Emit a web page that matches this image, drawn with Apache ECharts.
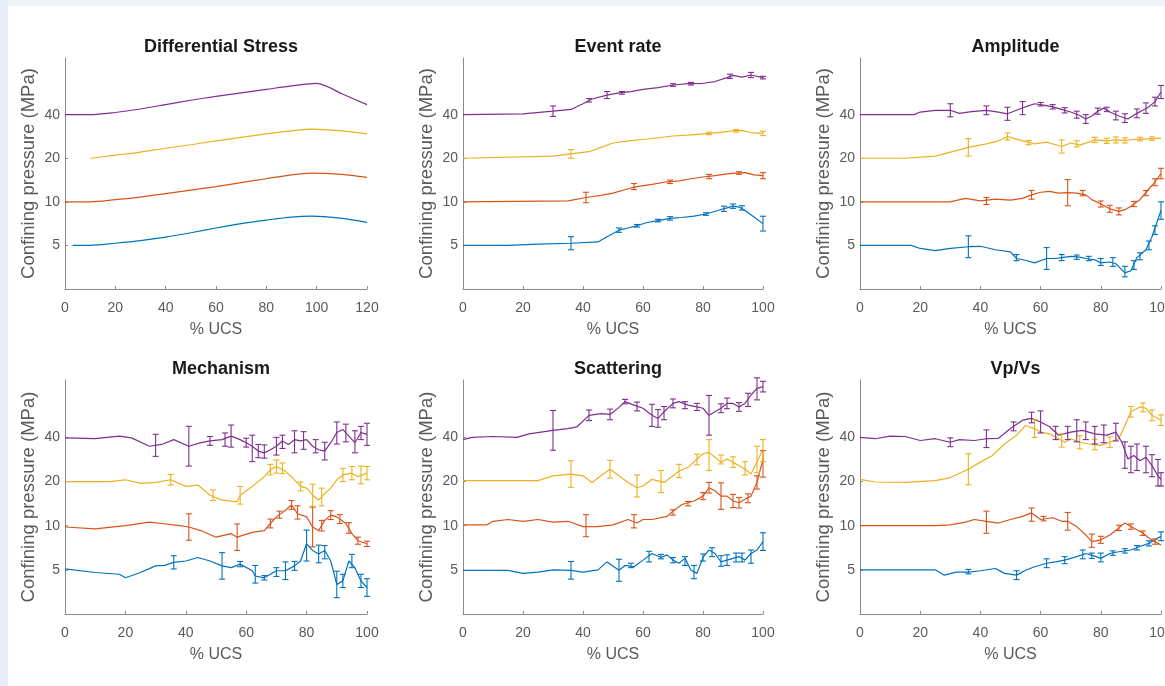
<!DOCTYPE html>
<html>
<head>
<meta charset="utf-8">
<script src="https://cdn.jsdelivr.net/npm/echarts@6/dist/echarts.min.js"></script>
<style>
html,body{margin:0;padding:0;background:#fff;}
#chart{width:1165px;height:686px;}
</style>
</head>
<body>
<div id="chart"></div>
<script>
// ---------------- DATA ----------------
const panelTitles = ['Differential Stress', 'Event rate', 'Amplitude', 'Mechanism', 'Scattering', 'Vp/Vs'];
const xMaxes = [120, 100, 100, 100, 100, 100];
const xTickStep = 20;
const yTickPositions = [1, 2, 3, 4];
const yTickLabels = ['5', '10', '20', '40'];
const xAxisTitle = '% UCS';
const yAxisTitle = 'Confining pressure (MPa)';
const seriesNames = ['5 MPa', '10 MPa', '20 MPa', '40 MPa'];

// Differential Stress
const stressBlue = [[3,1.0],[10,1.0],[20,1.05],[30,1.11],[40,1.19],[50,1.29],[60,1.40],[70,1.5],[80,1.58],[90,1.65],[98,1.67],[110,1.62],[120,1.53]];
const stressOrange = [[0,2.0],[10,2.0],[20,2.05],[30,2.11],[40,2.19],[50,2.27],[60,2.35],[70,2.44],[80,2.53],[90,2.62],[98,2.66],[110,2.63],[120,2.56]];
const stressYellow = [[10,3.0],[20,3.07],[30,3.14],[40,3.23],[50,3.31],[60,3.40],[70,3.48],[80,3.56],[90,3.63],[98,3.67],[110,3.63],[120,3.56]];
const stressPurple = [[0,4.0],[10,4.0],[20,4.05],[30,4.13],[40,4.23],[50,4.33],[60,4.42],[70,4.5],[80,4.58],[90,4.66],[100,4.72],[110,4.48],[120,4.23]];

// Event rate
const erBlue = [[0,1.0],[15,1.0],[25,1.03],[36,1.05],[45,1.08],[48,1.2],[52,1.35],[55,1.4],[58,1.45],[61,1.52],[65,1.57],[69,1.62],[73,1.64],[77,1.67],[81,1.72],[85,1.8],[88,1.86],[90,1.9],[92,1.88],[94,1.8],[97,1.65],[100,1.5]];
const erBlueErr = [[36,1.05,0.15],[52,1.35,0.05],[58,1.45,0.03],[65,1.57,0.03],[69,1.62,0.04],[81,1.72,0.03],[87,1.84,0.06],[90,1.9,0.05],[93,1.86,0.05],[100,1.5,0.17]];
const erOrange = [[0,2.0],[35,2.02],[41,2.1],[46,2.15],[50,2.2],[55,2.3],[58,2.35],[63,2.4],[68,2.46],[72,2.48],[76,2.53],[80,2.57],[84,2.6],[88,2.64],[91,2.66],[94,2.67],[97,2.62],[100,2.6]];
const erOrangeErr = [[41,2.1,0.12],[57,2.35,0.07],[69,2.46,0.04],[82,2.58,0.05],[92,2.66,0.03],[100,2.6,0.07]];
const erYellow = [[0,3.0],[30,3.05],[36,3.1],[42,3.15],[46,3.25],[50,3.35],[55,3.4],[60,3.43],[65,3.47],[70,3.51],[75,3.53],[80,3.56],[85,3.59],[90,3.63],[93,3.64],[96,3.59],[100,3.57]];
const erYellowErr = [[36,3.1,0.1],[82,3.57,0.03],[91,3.63,0.03],[100,3.57,0.05]];
const erPurple = [[0,4.0],[20,4.02],[30,4.08],[36,4.12],[40,4.25],[43,4.36],[48,4.45],[52,4.5],[56,4.53],[60,4.58],[65,4.62],[70,4.68],[75,4.71],[80,4.72],[84,4.76],[88,4.85],[90,4.9],[93,4.86],[96,4.91],[100,4.85]];
const erPurpleErr = [[30,4.08,0.12],[42,4.33,0.04],[48,4.45,0.08],[53,4.5,0.03],[70,4.68,0.03],[76,4.71,0.03],[89,4.88,0.05],[96,4.91,0.06],[100,4.85,0.03]];

// Amplitude
const ampBlue = [[0,1.0],[17,1.0],[20,0.93],[25,0.88],[30,0.93],[36,0.97],[40,0.98],[45,0.9],[50,0.85],[52,0.7],[55,0.66],[58,0.6],[62,0.7],[65,0.7],[67,0.72],[70,0.75],[73,0.73],[75,0.7],[78,0.67],[80,0.6],[83,0.62],[85,0.58],[88,0.37],[90,0.42],[92,0.72],[95,0.9],[97,1.2],[99,1.6],[100,1.8]];
const ampBlueErr = [[36,0.97,0.25],[52,0.72,0.07],[62,0.7,0.25],[67,0.72,0.07],[72,0.73,0.05],[76,0.7,0.05],[80,0.62,0.08],[84,0.62,0.1],[88,0.4,0.12],[91,0.55,0.1],[93,0.75,0.08],[96,1.0,0.1],[98,1.35,0.1],[100,1.8,0.2]];
const ampOrange = [[0,2.0],[30,2.0],[35,2.08],[40,2.02],[45,2.06],[50,2.04],[54,2.08],[57,2.16],[60,2.22],[63,2.24],[66,2.2],[69,2.21],[72,2.2],[75,2.16],[77,2.05],[80,1.95],[83,1.84],[86,1.78],[88,1.82],[90,1.9],[93,2.05],[96,2.3],[98,2.45],[100,2.65]];
const ampOrangeErr = [[42,2.02,0.08],[57,2.16,0.1],[69,2.21,0.3],[74,2.2,0.06],[80,1.95,0.07],[83,1.84,0.08],[86,1.78,0.08],[91,1.95,0.06],[95,2.2,0.06],[98,2.45,0.08],[100,2.65,0.12]];
const ampYellow = [[0,3.0],[15,3.0],[25,3.05],[36,3.25],[42,3.33],[46,3.4],[49,3.5],[52,3.44],[55,3.38],[58,3.33],[62,3.37],[67,3.27],[70,3.35],[73,3.3],[76,3.37],[78,3.42],[82,3.4],[85,3.42],[88,3.41],[91,3.43],[94,3.44],[97,3.45],[100,3.46]];
const ampYellowErr = [[36,3.25,0.2],[49,3.5,0.08],[56,3.36,0.05],[67,3.27,0.15],[72,3.33,0.07],[78,3.42,0.06],[82,3.4,0.06],[85,3.42,0.07],[88,3.41,0.06],[93,3.44,0.04],[97,3.45,0.04]];
const ampPurple = [[0,4.0],[18,4.0],[20,4.06],[25,4.1],[30,4.1],[33,4.03],[37,4.07],[42,4.1],[46,4.06],[49,4.02],[52,4.1],[55,4.18],[58,4.25],[61,4.22],[64,4.18],[67,4.12],[70,4.06],[73,3.98],[75,3.9],[77,3.97],[79,4.08],[81,4.15],[83,4.06],[86,3.97],[89,3.9],[92,4.03],[94,4.1],[96,4.18],[98,4.3],[100,4.52]];
const ampPurpleErr = [[30,4.1,0.15],[42,4.1,0.1],[49,4.02,0.15],[54,4.15,0.15],[60,4.24,0.04],[64,4.18,0.05],[68,4.1,0.06],[72,4.0,0.08],[75,3.9,0.1],[79,4.08,0.07],[82,4.12,0.05],[85,3.98,0.1],[88,3.92,0.1],[92,4.03,0.1],[95,4.15,0.12],[98,4.3,0.1],[100,4.52,0.15]];

// Mechanism
const mechBlue = [[0,1.02],[10,0.94],[18,0.9],[20,0.82],[25,0.94],[30,1.09],[33,1.1],[36,1.17],[40,1.2],[44,1.28],[48,1.2],[52,1.09],[55,1.05],[58,1.13],[62,0.98],[63,0.86],[66,0.82],[68,0.9],[70,0.98],[73,0.98],[76,1.09],[78,1.2],[80,1.59],[82,1.44],[84,1.36],[86,1.44],[88,1.2],[90,0.67],[92,0.75],[94,1.2],[96,1.05],[98,0.75],[100,0.6]];
const mechBlueErr = [[36,1.17,0.15],[52,1.09,0.3],[58,1.13,0.06],[63,0.9,0.2],[66,0.82,0.05],[70,0.95,0.1],[73,0.98,0.2],[76,1.09,0.1],[80,1.55,0.35],[84,1.36,0.2],[86,1.4,0.15],[90,0.67,0.3],[92,0.75,0.15],[95,1.2,0.15],[98,0.75,0.15],[100,0.6,0.2]];
const mechOrange = [[0,1.97],[10,1.93],[20,2.0],[28,2.08],[32,2.05],[38,2.0],[41,1.97],[45,1.89],[50,1.74],[55,1.82],[57,1.74],[62,1.85],[66,1.89],[68,2.05],[70,2.2],[73,2.35],[75,2.47],[77,2.27],[80,2.2],[82,1.97],[84,1.89],[86,2.12],[88,2.24],[90,2.2],[93,2.05],[95,1.82],[97,1.66],[100,1.59]];
const mechOrangeErr = [[41,1.97,0.3],[57,1.74,0.3],[68,2.05,0.1],[71,2.25,0.08],[75,2.47,0.1],[77,2.3,0.15],[82,1.97,0.45],[85,2.0,0.12],[88,2.24,0.1],[91,2.15,0.1],[94,1.95,0.12],[97,1.66,0.08],[100,1.59,0.06]];
const mechYellow = [[0,3.0],[15,3.0],[20,3.04],[25,2.96],[30,2.98],[35,3.04],[40,2.89],[44,2.92],[48,2.69],[52,2.58],[57,2.54],[58,2.69],[62,2.89],[66,3.11],[68,3.27],[70,3.34],[73,3.23],[75,3.11],[78,2.89],[80,2.85],[82,2.69],[84,2.58],[86,2.73],[88,2.85],[90,3.04],[92,3.15],[95,3.19],[97,3.11],[100,3.19]];
const mechYellowErr = [[35,3.04,0.12],[49,2.69,0.12],[58,2.69,0.2],[68,3.27,0.12],[70,3.34,0.15],[72,3.3,0.12],[78,2.89,0.1],[82,2.69,0.25],[85,2.65,0.2],[92,3.15,0.15],[95,3.19,0.15],[98,3.15,0.2],[100,3.19,0.15]];
const mechPurple = [[0,3.99],[10,3.97],[18,4.03],[22,3.99],[28,3.8],[32,3.84],[36,3.95],[41,3.8],[45,3.88],[48,3.92],[52,3.95],[55,4.03],[58,3.95],[60,3.88],[62,3.8],[64,3.69],[66,3.65],[68,3.72],[70,3.8],[72,3.92],[74,3.84],[76,3.95],[78,3.92],[80,3.95],[82,3.8],[84,3.72],[86,3.69],[88,3.88],[90,4.11],[92,4.18],[94,4.03],[96,3.88],[98,4.11],[100,4.07]];
const mechPurpleErr = [[30,3.82,0.25],[41,3.8,0.45],[48,3.92,0.1],[53,3.95,0.15],[55,4.03,0.25],[60,3.88,0.1],[62,3.75,0.3],[64,3.69,0.15],[66,3.68,0.15],[70,3.8,0.2],[72,3.9,0.15],[76,3.9,0.25],[79,3.93,0.2],[83,3.8,0.15],[86,3.69,0.2],[90,4.1,0.25],[93,4.1,0.2],[96,3.9,0.25],[98,4.1,0.15],[100,4.07,0.25]];

// Scattering
const scatBlue = [[0,0.99],[15,0.99],[20,0.92],[25,0.95],[30,1.0],[36,0.99],[40,0.95],[45,1.0],[48,1.18],[52,0.99],[54,1.1],[57,1.07],[60,1.22],[63,1.37],[66,1.28],[68,1.34],[70,1.22],[72,1.15],[74,1.26],[76,0.99],[78,0.92],[80,1.28],[82,1.45],[84,1.37],[86,1.18],[88,1.22],[90,1.26],[92,1.3],[94,1.22],[96,1.37],[98,1.45],[100,1.64]];
const scatBlueErr = [[36,0.99,0.2],[52,0.99,0.25],[56,1.1,0.05],[62,1.3,0.12],[66,1.3,0.05],[70,1.22,0.06],[74,1.2,0.1],[77,0.95,0.15],[80,1.28,0.08],[83,1.4,0.1],[86,1.2,0.12],[88,1.22,0.12],[91,1.28,0.1],[93,1.28,0.1],[96,1.3,0.15],[100,1.64,0.2]];
const scatOrange = [[0,2.02],[8,2.02],[10,2.1],[15,2.14],[20,2.1],[25,2.14],[30,2.08],[35,2.1],[40,1.98],[45,1.98],[50,2.02],[55,2.14],[58,2.06],[60,2.14],[63,2.14],[68,2.21],[70,2.33],[73,2.48],[77,2.56],[80,2.67],[82,2.86],[84,2.79],[86,2.67],[88,2.67],[90,2.56],[92,2.52],[94,2.6],[96,2.67],[98,2.98],[100,3.51]];
const scatOrangeErr = [[41,2.0,0.25],[57,2.1,0.15],[70,2.3,0.06],[75,2.5,0.05],[80,2.67,0.08],[82,2.86,0.12],[86,2.67,0.3],[90,2.56,0.15],[92,2.52,0.12],[95,2.62,0.1],[98,2.98,0.15],[100,3.4,0.3]];
const scatYellow = [[0,3.02],[25,3.02],[30,3.13],[36,3.17],[40,3.13],[43,2.98],[46,3.13],[49,3.28],[52,3.13],[55,2.98],[58,2.86],[60,2.9],[63,3.05],[67,2.98],[70,3.13],[72,3.24],[75,3.32],[78,3.51],[80,3.63],[82,3.66],[84,3.55],[86,3.44],[88,3.51],[90,3.44],[92,3.36],[94,3.28],[96,3.17],[98,3.44],[100,3.74]];
const scatYellowErr = [[36,3.17,0.3],[49,3.28,0.2],[58,2.9,0.25],[66,3.0,0.25],[72,3.24,0.15],[78,3.5,0.12],[82,3.6,0.35],[86,3.5,0.1],[90,3.44,0.12],[94,3.3,0.15],[98,3.5,0.3],[100,3.7,0.25]];
const scatPurple = [[0,3.95],[3,4.0],[10,4.02],[18,4.0],[22,4.08],[30,4.16],[35,4.2],[38,4.24],[42,4.5],[46,4.54],[49,4.52],[52,4.68],[54,4.81],[57,4.73],[60,4.66],[63,4.5],[65,4.43],[67,4.58],[70,4.77],[72,4.81],[75,4.73],[78,4.69],[80,4.66],[82,4.5],[84,4.58],[86,4.66],[88,4.77],[90,4.77],[92,4.69],[94,4.77],[96,4.96],[98,5.11],[100,5.15]];
const scatPurpleErr = [[30,4.16,0.45],[42,4.5,0.12],[49,4.52,0.12],[54,4.81,0.05],[58,4.7,0.1],[63,4.5,0.25],[65,4.43,0.2],[67,4.55,0.15],[70,4.77,0.1],[74,4.73,0.08],[78,4.69,0.08],[82,4.5,0.45],[86,4.66,0.1],[88,4.77,0.12],[92,4.69,0.1],[95,4.85,0.15],[98,5.1,0.25],[100,5.15,0.12]];

// Vp/Vs
const vpBlue = [[0,1.0],[25,1.0],[28,0.88],[32,0.95],[36,0.95],[40,0.98],[45,1.03],[48,0.92],[52,0.88],[55,0.99],[58,1.07],[62,1.15],[65,1.18],[68,1.22],[72,1.3],[75,1.37],[78,1.31],[80,1.26],[83,1.37],[86,1.41],[90,1.45],[93,1.53],[96,1.6],[100,1.76]];
const vpBlueErr = [[36,0.96,0.05],[52,0.88,0.1],[62,1.15,0.1],[68,1.22,0.08],[74,1.35,0.1],[77,1.32,0.06],[80,1.28,0.1],[84,1.38,0.05],[88,1.43,0.05],[92,1.5,0.05],[96,1.6,0.06],[100,1.76,0.1]];
const vpOrange = [[0,2.0],[25,2.0],[30,2.02],[35,2.08],[38,2.14],[42,2.1],[46,2.06],[50,2.14],[54,2.21],[57,2.29],[60,2.14],[64,2.18],[67,2.1],[69,2.1],[72,1.98],[75,1.79],[77,1.64],[80,1.68],[83,1.79],[86,1.95],[88,2.06],[90,1.98],[92,1.91],[94,1.83],[96,1.72],[98,1.64],[100,1.56]];
const vpOrangeErr = [[42,2.08,0.25],[57,2.25,0.15],[61,2.16,0.05],[69,2.1,0.2],[77,1.66,0.15],[80,1.68,0.08],[86,1.95,0.06],[90,1.98,0.06],[94,1.83,0.05],[98,1.64,0.06]];
const vpYellow = [[0,3.05],[5,2.99],[15,2.98],[25,3.02],[30,3.09],[36,3.28],[40,3.44],[44,3.59],[48,3.85],[52,4.05],[55,4.27],[58,4.2],[60,4.12],[63,4.08],[66,3.97],[68,3.89],[70,3.97],[73,3.89],[76,3.85],[80,3.82],[83,3.89],[86,3.97],[88,4.27],[90,4.58],[93,4.69],[95,4.66],[97,4.5],[100,4.39]];
const vpYellowErr = [[36,3.28,0.35],[58,4.2,0.2],[67,3.93,0.15],[73,3.89,0.15],[78,3.84,0.12],[83,3.89,0.12],[90,4.58,0.12],[94,4.68,0.1],[97,4.5,0.12],[100,4.39,0.12]];
const vpPurple = [[0,4.0],[5,3.97],[10,4.03],[15,4.02],[20,3.93],[25,3.97],[30,3.89],[33,3.95],[38,3.93],[42,3.97],[46,3.98],[50,4.2],[54,4.39],[57,4.43],[60,4.35],[63,4.24],[66,4.05],[70,4.12],[74,4.16],[78,4.08],[82,4.05],[85,4.12],[87,3.89],[89,3.51],[91,3.59],[93,3.47],[95,3.55],[97,3.36],[99,3.13],[100,3.05]];
const vpPurpleErr = [[30,3.89,0.1],[42,3.97,0.2],[51,4.25,0.1],[57,4.45,0.12],[60,4.35,0.25],[65,4.1,0.15],[69,4.1,0.15],[72,4.15,0.25],[75,4.15,0.2],[78,4.05,0.2],[81,4.08,0.2],[85,4.12,0.2],[88,3.6,0.3],[90,3.5,0.3],[92,3.55,0.3],[95,3.5,0.3],[97,3.36,0.25],[99,3.2,0.3],[100,3.05,0.15]];

// ---------------- LAYOUT / STYLE ----------------
const colors = ['#0072BD', '#D95319', '#EDB120', '#7E2F8E'];
const panelLines = [
  [stressBlue, stressOrange, stressYellow, stressPurple],
  [erBlue, erOrange, erYellow, erPurple],
  [ampBlue, ampOrange, ampYellow, ampPurple],
  [mechBlue, mechOrange, mechYellow, mechPurple],
  [scatBlue, scatOrange, scatYellow, scatPurple],
  [vpBlue, vpOrange, vpYellow, vpPurple]
];
const panelErrs = [
  [[], [], [], []],
  [erBlueErr, erOrangeErr, erYellowErr, erPurpleErr],
  [ampBlueErr, ampOrangeErr, ampYellowErr, ampPurpleErr],
  [mechBlueErr, mechOrangeErr, mechYellowErr, mechPurpleErr],
  [scatBlueErr, scatOrangeErr, scatYellowErr, scatPurpleErr],
  [vpBlueErr, vpOrangeErr, vpYellowErr, vpPurpleErr]
];
const gridBoxes = [
  {left: 65, top: 58, width: 302, height: 231},
  {left: 463, top: 58, width: 300, height: 231},
  {left: 860, top: 58, width: 301, height: 231},
  {left: 65, top: 380, width: 302, height: 234},
  {left: 463, top: 380, width: 300, height: 234},
  {left: 860, top: 380, width: 301, height: 234}
];
const FONT = 'Liberation Sans, Arial, sans-serif';
const axisColor = '#8a8a8a';
const labelColor = '#5a5a5a';

const grids = [], xAxes = [], yAxes = [], titles = [], series = [];
gridBoxes.forEach((g, i) => {
  grids.push({left: g.left, top: g.top, width: g.width, height: g.height, containLabel: false, outerBoundsMode: 'none'});
  titles.push({
    text: panelTitles[i],
    left: g.left + g.width / 2, top: g.top - 25, textAlign: 'center',
    textStyle: {fontFamily: FONT, fontSize: 18, fontWeight: 'bold', color: '#1a1a1a'}
  });
  xAxes.push({
    type: 'value', gridIndex: i, min: 0, max: xMaxes[i], interval: xTickStep,
    name: xAxisTitle, nameLocation: 'middle', nameGap: 33,
    nameTextStyle: {fontFamily: FONT, fontSize: 16, color: labelColor},
    axisLine: {show: true, lineStyle: {color: axisColor, width: 1}},
    axisTick: {show: true, inside: true, length: 3, lineStyle: {color: axisColor}},
    axisLabel: {fontFamily: FONT, fontSize: 14, color: labelColor, margin: 12, hideOverlap: false},
    splitLine: {show: false}
  });
  yAxes.push({
    type: 'value', gridIndex: i, min: 0, max: 5.3,
    name: yAxisTitle, nameLocation: 'middle', nameGap: 27,
    nameTextStyle: {fontFamily: FONT, fontSize: 18.5, color: labelColor},
    axisLine: {show: true, onZero: false, lineStyle: {color: axisColor, width: 1}},
    axisTick: {show: true, inside: true, length: 3, customValues: yTickPositions, lineStyle: {color: axisColor}},
    axisLabel: {
      fontFamily: FONT, fontSize: 14, color: labelColor, margin: 5,
      customValues: yTickPositions,
      formatter: v => { const k = yTickPositions.indexOf(Math.round(v)); return k >= 0 ? yTickLabels[k] : ''; }
    },
    splitLine: {show: false}
  });
  panelLines[i].forEach((d, s) => {
    series.push({
      type: 'line', name: seriesNames[s], xAxisIndex: i, yAxisIndex: i,
      data: d, showSymbol: false, smooth: i === 0 ? 0.3 : false,
      lineStyle: {color: colors[s], width: 1.2}, z: 2, animation: false
    });
  });
  panelErrs[i].forEach((d, s) => {
    if (!d.length) return;
    series.push({
      type: 'custom', xAxisIndex: i, yAxisIndex: i, data: d, animation: false, z: 3,
      encode: {x: 0, y: 1},
      renderItem: (params, api) => {
        const x = api.value(0), y = api.value(1), e = api.value(2);
        const lo = api.coord([x, y - e]);
        const hi = api.coord([x, y + e]);
        const cap = 3;
        const st = {stroke: colors[s], lineWidth: 1.1};
        return {
          type: 'group',
          children: [
            {type: 'line', shape: {x1: lo[0], y1: lo[1], x2: hi[0], y2: hi[1]}, style: st},
            {type: 'line', shape: {x1: lo[0] - cap, y1: lo[1], x2: lo[0] + cap, y2: lo[1]}, style: st},
            {type: 'line', shape: {x1: hi[0] - cap, y1: hi[1], x2: hi[0] + cap, y2: hi[1]}, style: st}
          ]
        };
      }
    });
  });
});

const chart = echarts.init(document.getElementById('chart'), null, {renderer: 'canvas'});
chart.setOption({
  backgroundColor: '#ffffff',
  animation: false,
  graphic: [
    {type: 'rect', shape: {x: 0, y: 0, width: 1165, height: 6}, style: {fill: '#f1f4f6'}, z: -10},
    {type: 'rect', shape: {x: 0, y: 0, width: 8, height: 686}, style: {fill: '#e6eef7'}, z: -10}
  ],
  title: titles,
  grid: grids,
  xAxis: xAxes,
  yAxis: yAxes,
  series: series
});
</script>
</body>
</html>
